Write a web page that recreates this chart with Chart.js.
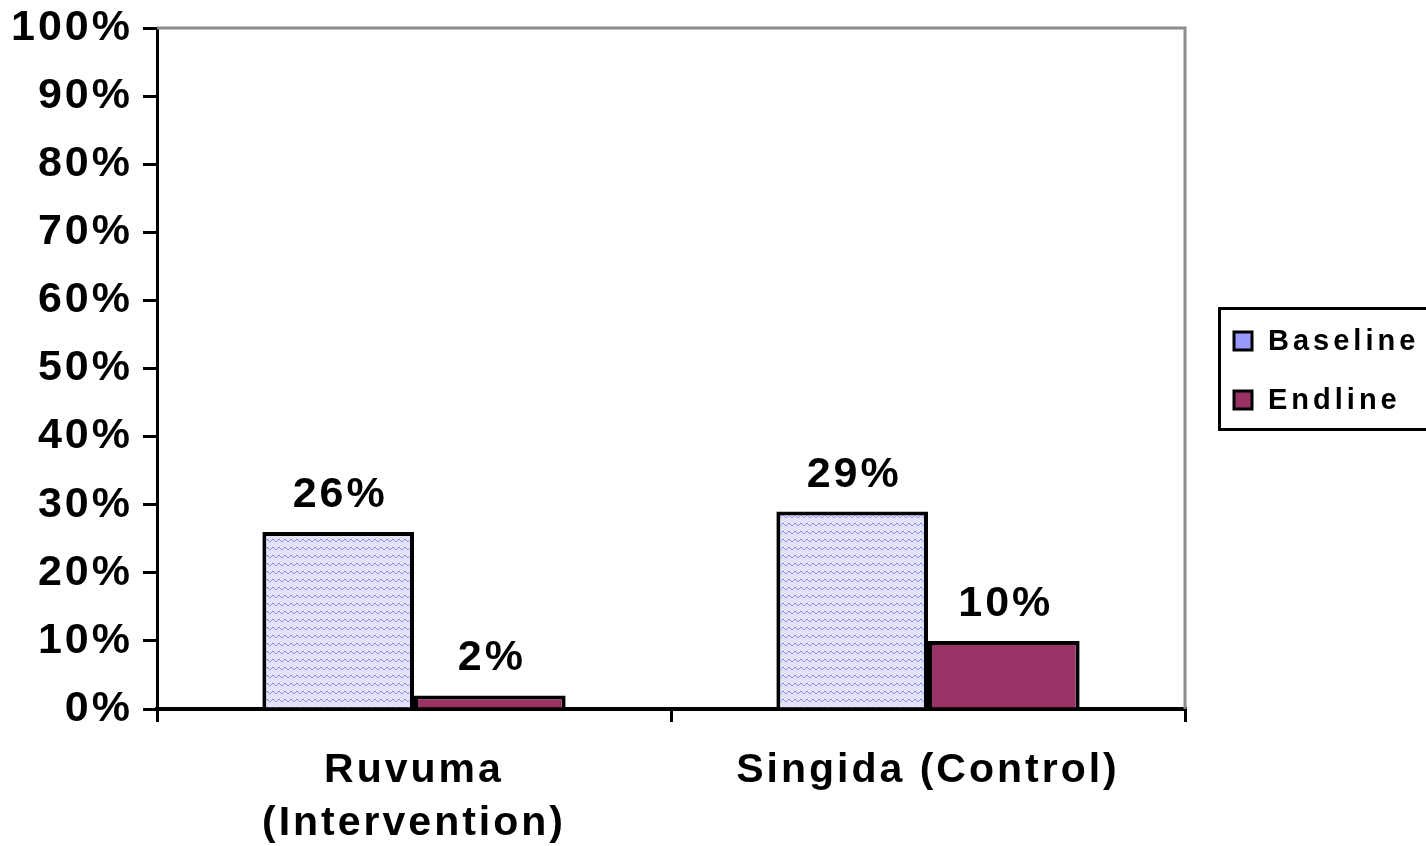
<!DOCTYPE html>
<html><head><meta charset="utf-8">
<script src="https://cdn.jsdelivr.net/npm/chart.js@4"></script>
<style>html,body{margin:0;padding:0;background:#fff;}#wrap{width:1426px;height:846px;}</style>
</head><body><div id="wrap"><canvas id="c" width="1426" height="846"></canvas></div>
<script>
const categories = [["Ruvuma", "(Intervention)"], "Singida (Control)"];
const baseline = [26, 29];
const endline = [2, 10];
const seriesNames = ["Baseline", "Endline"];
const yTicks = [0, 10, 20, 30, 40, 50, 60, 70, 80, 90, 100];

const FONT = "'Liberation Sans', Arial, sans-serif";

function makePattern() {
  const p = document.createElement('canvas');
  p.width = 12; p.height = 8;
  const g = p.getContext('2d');
  g.fillStyle = '#e2e2fb'; g.fillRect(0, 0, 12, 8);
  g.strokeStyle = '#9494f0'; g.lineWidth = 1;
  g.beginPath();
  g.moveTo(0, 6); g.lineTo(3, 3); g.lineTo(6, 6); g.lineTo(9, 3); g.lineTo(12, 6);
  g.stroke();
  g.fillStyle = '#6f6fec';
  g.fillRect(3, 3, 1, 1); g.fillRect(9, 3, 1, 1);
  return g.createPattern(p, 'repeat');
}
const pat = makePattern();

const spacingPlugin = {
  id: 'spacing',
  beforeDraw(chart) { chart.ctx.letterSpacing = '3px'; }
};

const decoPlugin = {
  id: 'deco',
  beforeDatasetsDraw(chart) {
    const { ctx, chartArea: a } = chart;
    ctx.save();
    ctx.strokeStyle = '#8c8c8c'; ctx.lineWidth = 3;
    ctx.beginPath();
    ctx.moveTo(a.left, a.top); ctx.lineTo(a.right, a.top); ctx.lineTo(a.right, a.bottom);
    ctx.stroke();
    ctx.restore();
  },
  afterDatasetsDraw(chart) {
    const { ctx } = chart;
    ctx.save();
    ctx.letterSpacing = '3px';
    ctx.font = 'bold 43px ' + FONT;
    ctx.fillStyle = '#000';
    ctx.textAlign = 'center';
    ctx.textBaseline = 'alphabetic';
    chart.data.datasets.forEach((ds, i) => {
      chart.getDatasetMeta(i).data.forEach((bar, j) => {
        ctx.fillText(ds.data[j] + '%', bar.x + 2, bar.y - 25);
      });
    });
    // legend
    ctx.lineWidth = 3; ctx.strokeStyle = '#000';
    ctx.strokeRect(1219.5, 308.5, 220, 121);
    ctx.font = 'bold 29px ' + FONT;
    ctx.letterSpacing = '4px';
    ctx.textAlign = 'left'; ctx.textBaseline = 'middle';
    const cols = ['#9999ff', '#993366'];
    const ys = [341, 400];
    chart.data.datasets.forEach((ds, i) => {
      ctx.fillStyle = cols[i];
      ctx.fillRect(1234, ys[i] - 9, 18, 18);
      ctx.lineWidth = 3; ctx.strokeStyle = '#000';
      ctx.strokeRect(1234, ys[i] - 9, 18, 18);
      ctx.fillStyle = '#000';
      ctx.fillText(ds.label, 1268, ys[i] + 1);
    });
    ctx.restore();
  }
};

new Chart(document.getElementById('c'), {
  type: 'bar',
  data: {
    labels: categories,
    datasets: [
      { label: seriesNames[0], data: baseline, backgroundColor: pat, borderColor: '#000', borderWidth: 4 },
      { label: seriesNames[1], data: endline, backgroundColor: '#993366', borderColor: '#000', borderWidth: 4 }
    ]
  },
  options: {
    responsive: false,
    animation: false,
    devicePixelRatio: 1,
    layout: { padding: { top: 28, right: 241, left: 0, bottom: 0 } },
    plugins: { legend: { display: false }, tooltip: { enabled: false } },
    datasets: { bar: { categoryPercentage: 0.59, barPercentage: 1 } },
    scales: {
      x: {
        offset: true,
        grid: { offset: true, drawOnChartArea: false, drawTicks: true, tickLength: 13, color: '#000', lineWidth: 3 },
        border: { display: true, color: '#000', width: 4 },
        ticks: { color: '#000', font: { family: FONT, size: 41, weight: 'bold', lineHeight: 1.3 }, padding: 22, maxRotation: 0 },
        afterFit(s) { s.height = 137; s.paddingLeft = 0; s.paddingRight = 0; }
      },
      y: {
        min: 0, max: 100,
        afterBuildTicks(s) { s.ticks = yTicks.map(v => ({ value: v })); },
        grid: { drawOnChartArea: false, drawTicks: true, tickLength: 14, color: '#000', lineWidth: 3 },
        border: { display: true, color: '#000', width: 3 },
        ticks: { color: '#000', font: { family: FONT, size: 43, weight: 'bold' }, padding: 10, callback: v => v + '%' },
        afterFit(s) { s.width = 157; s.paddingTop = 0; s.paddingBottom = 0; }
      }
    }
  },
  plugins: [spacingPlugin, decoPlugin]
});
</script>
</body></html>
